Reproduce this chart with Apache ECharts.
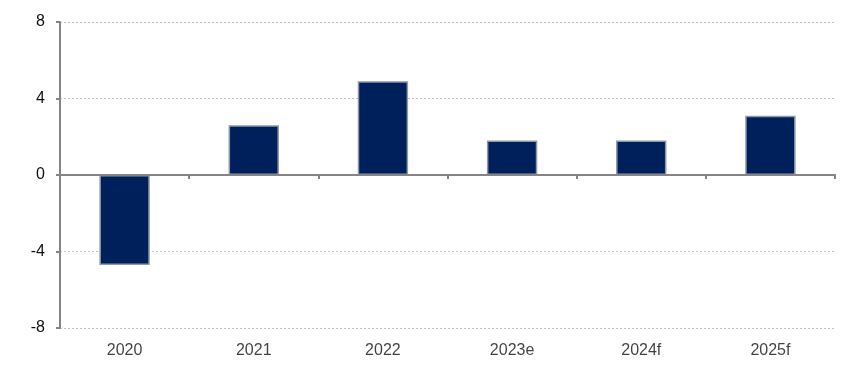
<!DOCTYPE html>
<html><head><meta charset="utf-8">
<script src="https://cdn.jsdelivr.net/npm/echarts@6/dist/echarts.min.js"></script>
<style>html,body{margin:0;padding:0;background:#fff}#c{width:855px;height:375px}</style>
</head><body><div id="c"></div>
<script>
const categories = ['2020','2021','2022','2023e','2024f','2025f'];
const values = [-4.7, 2.6, 4.9, 1.8, 1.8, 3.1];
const yTicks = [-8, -4, 0, 4, 8];

const chart = echarts.init(document.getElementById('c'));
chart.setOption({
  animation: false,
  grid: {left: 60, right: 20, top: 22, bottom: 47, containLabel: false},
  xAxis: {
    type: 'category', data: categories,
    axisLine: {onZero: true, lineStyle: {color: '#858585', width: 2}},
    axisTick: {show: true, length: 4, inside: false, lineStyle: {color: '#858585', width: 2}},
    axisLabel: {show: false},
    z: 5
  },
  yAxis: {
    type: 'value', min: -8, max: 8, interval: 4,
    axisLine: {show: true, lineStyle: {color: '#858585', width: 2}},
    axisTick: {show: true, length: 4, lineStyle: {color: '#858585', width: 2}},
    axisLabel: {color: '#111', fontFamily: 'Liberation Sans, Arial', fontSize: 16, margin: 15,
      formatter: v => yTicks.includes(v) ? String(v) : ''},
    splitLine: {show: true, lineStyle: {color: '#c0c0c0', type: [2, 2], width: 1}}
  },
  series: [
    {
      type: 'bar', data: values, barWidth: '39%',
      itemStyle: {color: '#00205b', borderColor: '#8e98a8', borderWidth: 1.5},
      z: 3
    },
    {
      type: 'scatter', data: categories.map(c => [c, -8]), symbolSize: 0,
      label: {show: true, position: 'bottom', distance: 15, formatter: p => p.name,
        color: '#111', fontFamily: 'Liberation Sans, Arial', fontSize: 16},
      silent: true, z: 1
    }
  ]
});
</script></body></html>
